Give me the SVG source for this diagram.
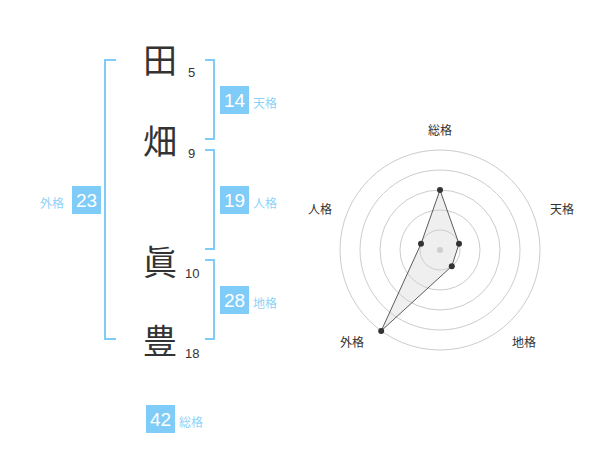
<svg xmlns="http://www.w3.org/2000/svg" width="600" height="470" viewBox="0 0 600 470">
<style>
.ch{font-family:"Noto Sans CJK JP","Noto Sans CJK SC",sans-serif;font-size:34px;fill:#333;text-anchor:middle}
.st{font-family:"Liberation Sans",Arial,sans-serif;font-size:13px;fill:#333}
.br{fill:none;stroke:#80ccf8;stroke-width:2}
.bx{fill:#80ccf8}
.bn{font-family:"Liberation Sans",Arial,sans-serif;font-size:19px;fill:#fff;text-anchor:middle}
.bl{font-family:"Noto Sans CJK JP","Noto Sans CJK SC",sans-serif;font-size:12px;fill:#8fd2f8}
.ring{fill:none;stroke:#ccc;stroke-width:1}
.ax{font-family:"Noto Sans CJK JP","Noto Sans CJK SC",sans-serif;font-size:12px;fill:#333;text-anchor:middle}
.pt{fill:#333}
</style>
<rect width="600" height="470" fill="#fff"/>
<g id="chars">
<text class="ch" x="160" y="73">田</text>
<text class="ch" x="160" y="154">畑</text>
<text class="ch" x="160" y="275">眞</text>
<text class="ch" x="160" y="354">豊</text>
<text class="st" x="188" y="77">5</text>
<text class="st" x="188" y="158">9</text>
<text class="st" x="185" y="278">10</text>
<text class="st" x="185" y="358">18</text>
</g>
<g id="connectors">
<polyline class="br" points="116,60 105,60 105,339 116,339"/>
<polyline class="br" points="205,60 214,60 214,139 205,139"/>
<polyline class="br" points="205,150 214,150 214,249 205,249"/>
<polyline class="br" points="205,260 214,260 214,339 205,339"/>
</g>
<g id="tenkaku">
<rect class="bx" x="220" y="86" width="29" height="28"/>
<text class="bn" x="234.5" y="107">14</text>
<text class="bl" x="253" y="108">天格</text>
</g>
<g id="jinkaku">
<rect class="bx" x="220" y="186" width="29" height="28"/>
<text class="bn" x="234.5" y="207">19</text>
<text class="bl" x="253" y="208">人格</text>
</g>
<g id="gaikaku">
<rect class="bx" x="72" y="186" width="29" height="28"/>
<text class="bn" x="86.5" y="207">23</text>
<text class="bl" x="40" y="208">外格</text>
</g>
<g id="chikaku">
<rect class="bx" x="220" y="286" width="29" height="28"/>
<text class="bn" x="234.5" y="307">28</text>
<text class="bl" x="253" y="308">地格</text>
</g>
<g id="soukaku">
<rect class="bx" x="146" y="405" width="29" height="28"/>
<text class="bn" x="160.5" y="426">42</text>
<text class="bl" x="179" y="427">総格</text>
</g>
<g id="radar">
<circle class="ring" cx="440" cy="250" r="20"/>
<circle class="ring" cx="440" cy="250" r="40"/>
<circle class="ring" cx="440" cy="250" r="60"/>
<circle class="ring" cx="440" cy="250" r="80"/>
<circle class="ring" cx="440" cy="250" r="100"/>
<circle cx="440" cy="250" r="3" fill="#ccc"/>
<polygon points="440,190 459,243.8 451.8,266.2 381.2,330.9 421,243.8" fill="rgba(210,210,210,0.35)" stroke="#333" stroke-width="0.8"/>
<circle class="pt" cx="440" cy="190" r="3"/>
<circle class="pt" cx="459" cy="243.8" r="3"/>
<circle class="pt" cx="451.8" cy="266.2" r="3"/>
<circle class="pt" cx="381.2" cy="330.9" r="3"/>
<circle class="pt" cx="421" cy="243.8" r="3"/>
<text class="ax" x="440" y="135">総格</text>
<text class="ax" x="562" y="214">天格</text>
<text class="ax" x="320" y="214">人格</text>
<text class="ax" x="352" y="347">外格</text>
<text class="ax" x="524" y="347">地格</text>
</g>
</svg>
